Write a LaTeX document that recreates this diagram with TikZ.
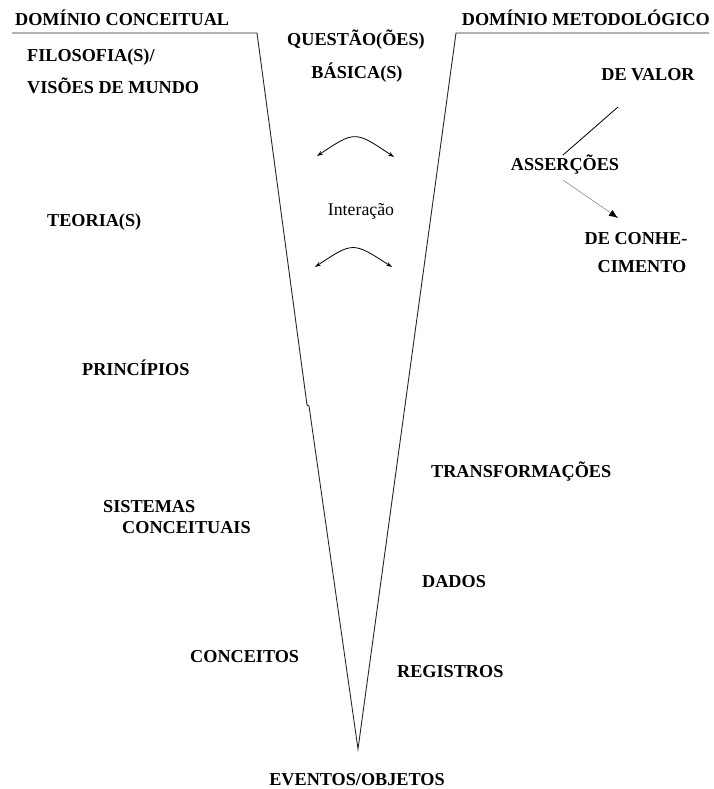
\documentclass[tikz,border=0pt]{standalone}
\usepackage{fontspec}
\setmainfont{Liberation Serif}
\usetikzlibrary{arrows.meta}
\begin{document}
\begin{tikzpicture}[x=1pt,y=-1pt,
  lbl/.style={font=\fontsize{18.2}{20}\selectfont\bfseries, inner sep=0pt},
  lbll/.style={lbl, anchor=west},
  vline/.style={line width=0.9pt, black!85},
  arcarrow/.style={line width=0.8pt, {Stealth[length=6pt,width=4pt,inset=2pt,open]}-{Stealth[length=6pt,width=4pt,inset=2pt,open]}},
]
\useasboundingbox (0,0) rectangle (714,789);
% V shape
\coordinate (lh) at (12,33);
\coordinate (lt) at (257,33);
\coordinate (k1) at (307,405);
\coordinate (k2) at (309,406);
\coordinate (bot) at (358,749);
\coordinate (rt) at (456,33);
\coordinate (rh) at (709,33);
\draw[vline, line join=miter] (lh) -- (lt) -- (k1) -- (k2) -- (bot) -- (rt) -- (rh);
% headings
\node[lbll] (dc) at (15,18) {DOMÍNIO CONCEITUAL};
\node[lbl, anchor=east] (dm) at (710,18) {DOMÍNIO METODOLÓGICO};
\node[lbl] (q1) at (356,40) {QUESTÃO(ÕES)};
\node[lbl] (q2) at (357,73) {BÁSICA(S)};
% left column
\node[lbll] (f1) at (27,57) {FILOSOFIA(S)/};
\node[lbll] (f2) at (27,86) {VISÕES DE MUNDO};
\node[lbll] (teo) at (47,222) {TEORIA(S)};
\node[lbll] (pri) at (82,368) {PRINCÍPIOS};
\node[lbll] (sis1) at (103,507) {SISTEMAS};
\node[lbll] (sis2) at (122,528) {CONCEITUAIS};
\node[lbll] (con) at (190,657) {CONCEITOS};
% right column
\node[lbl] (val) at (648,75) {DE VALOR};
\node[lbl] (ass) at (565,165) {ASSERÇÕES};
\node[lbl] (dc1) at (636,239) {DE CONHE-};
\node[lbl] (dc2) at (642,267) {CIMENTO};
\node[lbll] (tra) at (431,472) {TRANSFORMAÇÕES};
\node[lbll] (dad) at (422,582) {DADOS};
\node[lbll] (reg) at (397,672) {REGISTROS};
\node[lbl] (ev) at (357,780) {EVENTOS/OBJETOS};
% centre
\node[font=\fontsize{17.8}{20}\selectfont, inner sep=0pt] (int) at (361,211) {Interação};
\coordinate (a1) at (317,156);
\coordinate (c1) at (355,130.7);
\coordinate (b1) at (394,157);
\draw[arcarrow] (a1) .. controls (c1) .. (b1);
\coordinate (a2) at (315,267);
\coordinate (c2) at (353,241.7);
\coordinate (b2) at (392,267);
\draw[arcarrow] (a2) .. controls (c2) .. (b2);
% assertion lines
\coordinate (v1) at (618,107);
\coordinate (v2) at (563,155);
\draw[line width=0.8pt] (v1) -- (v2);
\coordinate (k3) at (563,180);
\coordinate (k4) at (618,218);
\draw[line width=0.6pt, black!45, -{Latex[length=9pt,width=7pt,black]}] (k3) -- (k4);
\end{tikzpicture}
\end{document}
